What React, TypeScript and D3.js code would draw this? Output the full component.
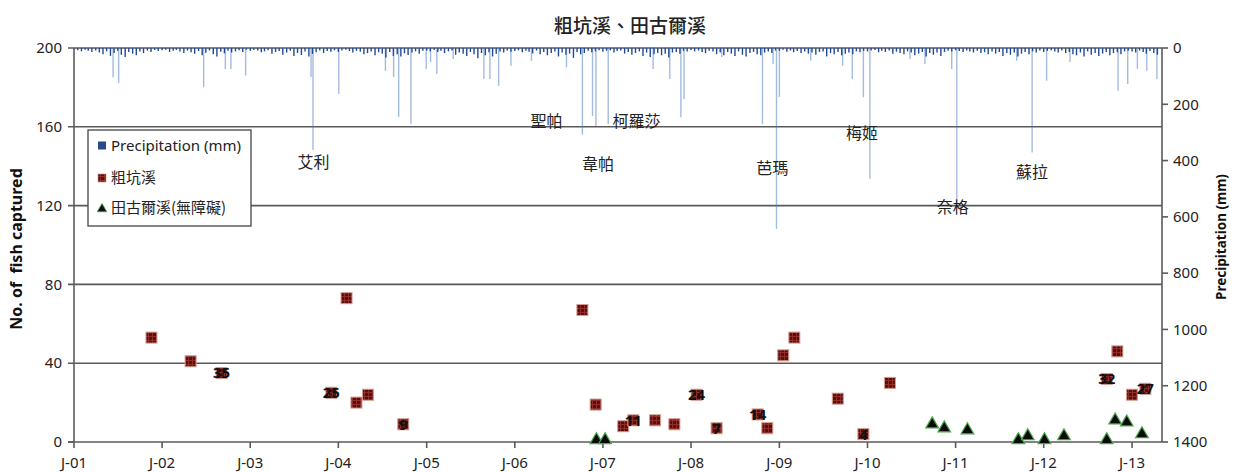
import React from 'react';
import * as d3 from 'd3';

const W = 1235;
const H = 472;
const M = { top: 48, right: 73, bottom: 30, left: 74 };

const FONT = "'Noto Sans', 'Noto Sans CJK TC', sans-serif";
const CJK = "'Noto Sans CJK TC', 'Noto Sans', sans-serif";

// axis ticks
const yearTicks = [2001, 2002, 2003, 2004, 2005, 2006, 2007, 2008, 2009, 2010, 2011, 2012, 2013];
const yearLabels = ['J-01', 'J-02', 'J-03', 'J-04', 'J-05', 'J-06', 'J-07', 'J-08', 'J-09', 'J-10', 'J-11', 'J-12', 'J-13'];
const fishTicks = [0, 40, 80, 120, 160, 200];
const rainTicks = [0, 200, 400, 600, 800, 1000, 1200, 1400];

// 粗坑溪 catches
const kengDates = ['2001-11-18', '2002-04-29', '2002-09-04', '2003-12-03', '2004-02-04', '2004-03-16', '2004-05-03',
  '2004-09-26', '2006-10-08', '2006-12-02', '2007-03-26', '2007-05-07', '2007-08-05', '2007-10-24', '2008-01-24',
  '2008-04-16', '2008-10-03', '2008-11-12', '2009-01-17', '2009-03-04', '2009-08-31', '2009-12-15', '2010-04-04',
  '2012-09-18', '2012-11-01', '2013-01-01', '2013-02-25'];
const kengCounts = [53, 41, 35, 25, 73, 20, 24, 9, 67, 19, 8, 11, 11, 9, 24, 7, 14, 7, 44, 53, 22, 4, 30, 32, 46, 24, 27];
const kengLabels = ['', '', '35', '25', '', '', '', '9', '', '', '', '11', '', '', '24', '7', '14', '', '', '', '', '4', '',
  '32', '', '', '27'];

// 田古爾溪(無障礙) catches
const tgDates = ['2006-12-05', '2007-01-10', '2010-09-26', '2010-11-15', '2011-02-19', '2011-09-18', '2011-10-27',
  '2012-01-04', '2012-03-25', '2012-09-18', '2012-10-23', '2012-12-10', '2013-02-11'];
const tgCounts = [0, 0, 8, 6, 5, 0, 2, 0, 2, 0, 10, 9, 3];

// large daily rainfall events (mm)
const stormDates = ['2003-09-18', '2004-09-07', '2004-10-28', '2002-06-22', '2004-01-03', '2001-06-12', '2001-07-05',
  '2002-12-13', '2002-10-13', '2002-09-20', '2003-09-10', '2004-07-14', '2004-12-30', '2004-08-17', '2005-01-17',
  '2005-02-12', '2006-10-08', '2006-11-19', '2006-12-03', '2007-01-23', '2007-11-20', '2008-12-20', '2008-10-23',
  '2005-08-26', '2005-10-26', '2005-09-20', '2007-10-05', '2007-07-28', '2007-12-03', '2006-08-03', '2009-01-01',
  '2005-12-16', '2006-03-11', '2005-04-21', '2008-05-07', '2008-12-06', '2010-01-11', '2009-12-15', '2009-10-30',
  '2011-01-06', '2011-11-14', '2012-01-13', '2012-11-04', '2012-12-14', '2013-04-14', '2013-03-03', '2009-09-20',
  '2009-05-11', '2010-12-16', '2010-08-27', '2011-09-11', '2012-04-19', '2013-01-23', '2010-06-26'];
const stormMm = [362, 245, 270, 139, 163, 104, 124, 98, 75, 75, 103, 81, 75, 103, 50, 92, 308, 241, 276, 270, 246, 643,
  270, 110, 134, 110, 110, 75, 181, 69, 174, 63, 45, 39, 32, 57, 465, 175, 110, 566, 371, 116, 152, 128, 110, 81, 63, 45,
  75, 57, 45, 50, 75, 39];

// ordinary rainfall, one value per half month (1st / 16th)
const rain2001 = [5, 8, 12, 6, 10, 14, 9, 16, 22, 12, 28, 18, 10, 24, 32, 14, 20, 26, 12, 18, 9, 14, 7, 11];
const rain2002 = [8, 6, 14, 10, 7, 12, 18, 9, 15, 20, 11, 26, 17, 9, 22, 30, 13, 19, 10, 16, 12, 8, 14, 6];
const rain2003 = [10, 7, 9, 15, 12, 8, 20, 14, 11, 24, 16, 10, 28, 18, 25, 12, 30, 21, 15, 9, 18, 11, 13, 8];
const rain2004 = [14, 9, 6, 11, 16, 10, 13, 22, 18, 12, 26, 15, 20, 34, 14, 28, 22, 30, 19, 25, 16, 12, 20, 10];
const rain2005 = [9, 12, 7, 14, 10, 18, 12, 9, 24, 16, 20, 28, 14, 22, 36, 18, 26, 15, 30, 20, 12, 16, 9, 13];
const rain2006 = [11, 8, 15, 10, 13, 19, 9, 22, 14, 26, 18, 12, 30, 16, 24, 20, 35, 14, 22, 18, 10, 15, 12, 8];
const rain2007 = [13, 10, 8, 16, 11, 9, 20, 14, 24, 18, 12, 28, 16, 32, 22, 18, 26, 20, 34, 16, 14, 20, 10, 12];
const rain2008 = [7, 12, 9, 14, 18, 10, 12, 22, 16, 26, 14, 20, 28, 12, 24, 30, 18, 14, 22, 26, 16, 12, 18, 9];
const rain2009 = [10, 6, 13, 9, 15, 11, 18, 12, 20, 16, 24, 14, 12, 30, 18, 22, 14, 26, 20, 16, 22, 12, 15, 10];
const rain2010 = [12, 9, 7, 15, 10, 14, 9, 20, 13, 18, 22, 12, 16, 26, 20, 14, 30, 18, 24, 16, 28, 14, 10, 12];
const rain2011 = [8, 11, 14, 9, 12, 16, 10, 18, 15, 22, 12, 20, 14, 28, 18, 24, 16, 30, 20, 14, 22, 12, 16, 9];
const rain2012 = [14, 10, 8, 12, 16, 9, 18, 14, 22, 26, 16, 30, 12, 24, 18, 28, 20, 14, 26, 18, 15, 22, 12, 10];
const rain2013 = [12, 16, 9, 14, 20, 11, 18, 24];

// typhoon annotations (date, height on the fish axis)
const typhoonNames = ['艾利', '聖帕', '柯羅莎', '韋帕', '芭瑪', '梅姬', '奈格', '蘇拉'];
const typhoonDates = ['2003-09-20', '2006-05-12', '2007-05-20', '2006-12-12', '2008-12-03', '2009-12-09', '2010-12-20', '2011-11-13'];
const typhoonLevels = [142, 163, 163, 141, 139, 157, 119.5, 137];

const parse = d3.timeParse('%Y-%m-%d');

const App = () => {
  const x = d3.scaleTime()
    .domain([new Date(2001, 0, 1), new Date(2013, 4, 5)])
    .range([M.left, W - M.right]);
  const y = d3.scaleLinear([0, 200], [H - M.bottom, M.top]);
  const yR = d3.scaleLinear([0, 1400], [M.top, H - M.bottom]);

  const x0 = M.left;
  const x1 = W - M.right;
  const yBase = H - M.bottom;

  const halfMonth = [rain2001, rain2002, rain2003, rain2004, rain2005, rain2006, rain2007,
    rain2008, rain2009, rain2010, rain2011, rain2012, rain2013]
    .flatMap((arr, yi) => arr.map((v, i) => ({
      date: new Date(2001 + yi, Math.floor(i / 2), i % 2 ? 16 : 1), v
    })));
  const storms = stormDates.map((d, i) => ({ date: parse(d)!, v: stormMm[i] }));
  const keng = kengDates.map((d, i) => ({ date: parse(d)!, v: kengCounts[i], label: kengLabels[i] }));
  const tg = tgDates.map((d, i) => ({ date: parse(d)!, v: tgCounts[i] }));
  const typhoons = typhoonNames.map((n, i) => ({ name: n, date: parse(typhoonDates[i])!, v: typhoonLevels[i] }));

  const tri = d3.symbol(d3.symbolTriangle, 70)();

  return (
    <svg width={W} height={H} style={{ position: 'absolute', left: 0, top: 0, background: '#fff' }}
      fontFamily={FONT}>
      <defs>
        <pattern id="sq" width="4" height="4" patternUnits="userSpaceOnUse">
          <rect width="4" height="4" fill="#5e0d0d" />
          <path d="M0 0.5H4M0.5 0V4" stroke="#8e2f2c" strokeWidth="1" />
        </pattern>
      </defs>

      {/* title */}
      <text x={630} y={33} textAnchor="middle" fontFamily={CJK} fontSize={19} fontWeight={500} fill="#222">
        粗坑溪、田古爾溪
      </text>

      {/* gridlines */}
      {fishTicks.filter(t => t > 0).map(t => (
        <line key={t} x1={x0 - 6} x2={x1} y1={y(t)} y2={y(t)} stroke="#5a5a5a" strokeWidth={1.6} />
      ))}

      {/* rainfall bars */}
      {storms.map((d, i) => (
        <line key={'s' + i} x1={x(d.date)} x2={x(d.date)} y1={yR(0)} y2={yR(d.v)}
          stroke="#4a78c2" strokeWidth={1.4} strokeOpacity={0.5} />
      ))}
      {halfMonth.map((d, i) => (
        <line key={'h' + i} x1={x(d.date)} x2={x(d.date)} y1={yR(0)} y2={yR(d.v)}
          stroke="#1f4a99" strokeWidth={1.4} />
      ))}

      {/* axes lines */}
      <line x1={x0} x2={x0} y1={M.top} y2={yBase} stroke="#5a5a5a" strokeWidth={1.6} />
      <line x1={x1} x2={x1} y1={M.top} y2={yBase} stroke="#5a5a5a" strokeWidth={1.6} />
      <line x1={x0 - 6} x2={x1} y1={yBase} y2={yBase} stroke="#5a5a5a" strokeWidth={1.6} />
      <line x1={x0 - 6} x2={x0} y1={y(0)} y2={y(0)} stroke="#5a5a5a" strokeWidth={1.6} />

      {/* left ticks */}
      {fishTicks.map(t => (
        <text key={t} x={x0 - 12} y={y(t)} dy="0.35em" textAnchor="end" fontSize={15} fill="#222">{t}</text>
      ))}
      {/* right ticks */}
      {rainTicks.map(t => (
        <g key={t}>
          <line x1={x1} x2={x1 + 6} y1={yR(t)} y2={yR(t)} stroke="#5a5a5a" strokeWidth={1.6} />
          <text x={x1 + 11} y={yR(t)} dy="0.35em" fontSize={15} fill="#222">{t}</text>
        </g>
      ))}
      {/* bottom ticks */}
      {yearTicks.map((yr, i) => {
        const xx = x(new Date(yr, 0, 1));
        return (
          <g key={yr}>
            <line x1={xx} x2={xx} y1={yBase} y2={yBase + 6} stroke="#5a5a5a" strokeWidth={1.6} />
            <text x={xx} y={468} textAnchor="middle" fontSize={15} fill="#222">{yearLabels[i]}</text>
          </g>
        );
      })}

      {/* axis titles */}
      <text transform={`translate(22,${(M.top + yBase) / 2 + 4}) rotate(-90)`} textAnchor="middle"
        fontSize={16} fontWeight="bold" fill="#111" style={{ whiteSpace: 'pre' }}>No. of  fish captured</text>
      <text transform={`translate(1226,237) rotate(-90)`} textAnchor="middle"
        fontSize={13.5} fontWeight="bold" fill="#111">Precipitation (mm)</text>

      {/* typhoon names */}
      {typhoons.map(t => (
        <text key={t.name} x={x(t.date)} y={y(t.v)} dy="0.38em" textAnchor="middle"
          fontFamily={CJK} fontSize={16} fill="#222">{t.name}</text>
      ))}

      {/* legend */}
      <rect x={88} y={130} width={163} height={96} fill="#fff" stroke="#444" strokeWidth={1.3} />
      <rect x={98} y={141.5} width={8} height={8} fill="#2b4a8e" />
      <text x={111} y={146} dy="0.35em" fontSize={15} fill="#222">Precipitation (mm)</text>
      <rect x={98} y={174} width={8} height={8} fill="url(#sq)" stroke="#c98e80" strokeWidth={0.6} />
      <text x={111} y={178} dy="0.35em" fontFamily={CJK} fontSize={15} fill="#222">粗坑溪</text>
      <path d={d3.symbol(d3.symbolTriangle, 40)()!} transform="translate(102,209)" fill="#111"
        stroke="#4ca64c" strokeWidth={0.8} />
      <text x={111} y={208} dy="0.35em" fontFamily={CJK} fontSize={15} fill="#222">田古爾溪(無障礙)</text>

      {/* 粗坑溪 squares */}
      {keng.map((d, i) => (
        <rect key={'k' + i} x={x(d.date) - 5.5} y={y(d.v) - 5.5} width={11} height={11}
          fill="url(#sq)" stroke="#d49c8e" strokeWidth={1} />
      ))}
      {keng.filter(d => d.label).map((d, i) => (
        <text key={'kl' + i} x={x(d.date)} y={y(d.v)} dy="0.36em" textAnchor="middle"
          fontSize={15} fontWeight="bold" fill="#111">{d.label}</text>
      ))}

      {/* 田古爾溪 triangles */}
      {tg.map((d, i) => (
        <path key={'t' + i} d={tri!} transform={`translate(${x(d.date)},${y(d.v) - 2})`}
          fill="#0a0a0a" stroke="#4ca64c" strokeWidth={1.2} />
      ))}
    </svg>
  );
};

export default App;
